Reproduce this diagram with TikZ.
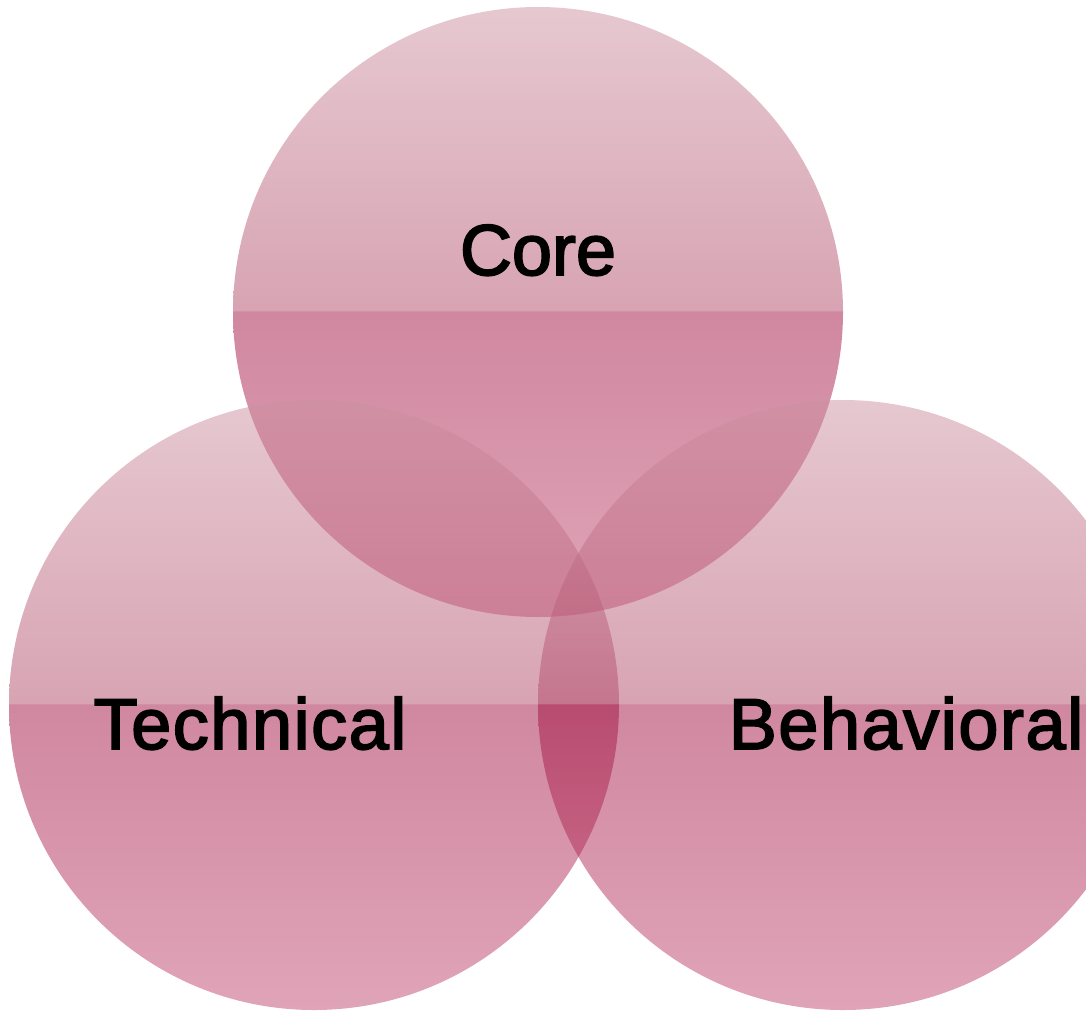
\documentclass[tikz,border=0pt]{standalone}
\usepackage{fontspec}
\setmainfont{Liberation Sans}
\newfontfamily\labelfont[FakeBold=2.5]{Liberation Sans}
\newfontfamily\widelabelfont[FakeBold=2.5, LetterSpace=2.2]{Liberation Sans}
\definecolor{upT}{RGB}{205,145,161}
\definecolor{upB}{RGB}{177,73,105}
\definecolor{lowT}{RGB}{161,17,65}
\definecolor{lowB}{RGB}{193,73,113}
% glass-like fill: light upper half, sharp step to a darker lower half
\pgfdeclareverticalshading{glassy}{100bp}{%
  color(0bp)=(lowB); color(25bp)=(lowB); color(50.05bp)=(lowT);
  color(50.15bp)=(upB); color(75bp)=(upT); color(100bp)=(upT)}
\tikzset{
  disc/.style={circle, inner sep=0pt, minimum size=610pt, shading=glassy, fill opacity=0.5},
  caption/.style={font=\labelfont\fontsize{72}{80}\selectfont, text=black, inner sep=0pt, anchor=base},
  widecaption/.style={caption, font=\widelabelfont\fontsize{72}{80}\selectfont}
}
\begin{document}
\begin{tikzpicture}[x=1pt,y=-1pt]
  \useasboundingbox (0,0) rectangle (1086,1010);
  \clip (0,0) rectangle (1086,1010);
  \node[disc] (core) at (538,312) {};
  \node[disc] (technical) at (314,705) {};
  \node[disc] (behavioral) at (843,705) {};
  \node[caption] (coretext) at (538,275) {Core};
  \node[widecaption] (techtext) at (250,749) {Technical};
  \node[widecaption] (behtext) at (906,749) {Behavioral};
\end{tikzpicture}
\end{document}
